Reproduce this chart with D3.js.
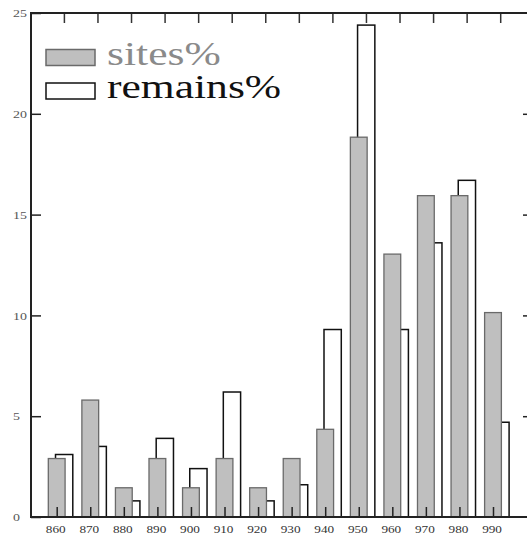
<!DOCTYPE html>
<html>
<head>
<meta charset="utf-8">
<script src="https://cdn.jsdelivr.net/npm/d3@7"></script>
<style>
  html, body { margin: 0; padding: 0; background: #fff; }
  svg { display: block; font-family: "Liberation Serif", "DejaVu Serif", serif; }
</style>
</head>
<body>
<svg id="chart" width="527" height="537"></svg>
<script>
'use strict'

// decades (x categories)
const decades = [860, 870, 880, 890, 900, 910, 920, 930, 940, 950, 960, 970, 980, 990]
// percentage of sites per decade
const sitesPct = [2.9, 5.8, 1.45, 2.9, 1.45, 2.9, 1.45, 2.9, 4.35, 18.84, 13.04, 15.94, 15.94, 10.14]
// percentage of remains per decade
const remainsPct = [3.1, 3.5, 0.8, 3.9, 2.4, 6.2, 0.8, 1.6, 9.3, 24.4, 9.3, 13.6, 16.7, 4.7]
// y tick values
const yTicks = [0, 5, 10, 15, 20, 25]

const frame = {left: 31, right: 533, top: 13, bottom: 517}
const tickLen = 10

// x scale: bottom ticks / sites bars
const x = d3.scaleLinear().domain([860, 990]).range([56.7, 493])
// top axis is shifted a bit, remains bars sit on it
const xTop = d3.scaleLinear().domain([860, 990]).range([63.9, 500.2])
// y scale
const y = d3.scaleLinear().domain([0, 25]).range([frame.bottom, frame.top])

const barW = x(865) - x(860)

const svg = d3.select('#chart')

// remains bars (white, drawn first so that sites bars cover them)
svg.append('g').selectAll('rect')
  .data(decades)
  .enter().append('rect')
  .attr('x', (d) => xTop(d) - barW / 2)
  .attr('y', (d, i) => y(remainsPct[i]))
  .attr('width', barW + 0.5)
  .attr('height', (d, i) => y(0) - y(remainsPct[i]))
  .attr('fill', '#fff')
  .attr('stroke', '#111')
  .attr('stroke-width', 1.5)

// sites bars (grey)
svg.append('g').selectAll('rect')
  .data(decades)
  .enter().append('rect')
  .attr('x', (d) => x(d) - barW / 2)
  .attr('y', (d, i) => y(sitesPct[i]))
  .attr('width', barW)
  .attr('height', (d, i) => y(0) - y(sitesPct[i]))
  .attr('fill', '#bfbfbf')
  .attr('stroke', '#6a6a6a')
  .attr('stroke-width', 1.3)

// bottom axis (ticks point up into the plot)
const xAxis = svg.append('g')
  .attr('transform', 'translate(0,' + frame.bottom + ')')
  .call(d3.axisBottom(x).tickValues(decades).tickSize(-tickLen).tickSizeOuter(0).tickFormat(d3.format('d')))
xAxis.select('.domain').remove()
xAxis.selectAll('line').attr('stroke', '#222').attr('stroke-width', 1.5)
xAxis.selectAll('text')
  .attr('font-size', 11)
  .attr('fill', '#333')
  .attr('y', 16)
  .attr('x', -1.5 / 1.2)
  .attr('dy', 0)
  .attr('transform', 'scale(1.2,1)')
  .attr('font-family', '"Liberation Serif", serif')

// top axis (ticks point down)
const topAxis = svg.append('g')
  .attr('transform', 'translate(0,' + frame.top + ')')
  .call(d3.axisTop(xTop).tickValues(decades).tickSize(-tickLen).tickSizeOuter(0).tickFormat(''))
topAxis.select('.domain').remove()
topAxis.selectAll('line').attr('stroke', '#333').attr('stroke-width', 1.5)

// left axis (ticks point right)
const yAxis = svg.append('g')
  .attr('transform', 'translate(' + frame.left + ',0)')
  .call(d3.axisLeft(y).tickValues(yTicks).tickSize(-tickLen).tickSizeOuter(0))
yAxis.select('.domain').remove()
yAxis.selectAll('line').attr('stroke', '#222').attr('stroke-width', 1.5)
yAxis.selectAll('text')
  .attr('text-anchor', 'start')
  .attr('font-size', 10.5)
  .attr('fill', '#555')
  .attr('x', -18 / 1.33)
  .attr('dy', '0.35em')
  .attr('transform', 'scale(1.33,1)')
  .attr('font-family', '"Liberation Serif", serif')

// right axis (ticks point left)
const rightAxis = svg.append('g')
  .attr('transform', 'translate(' + frame.right + ',0)')
  .call(d3.axisRight(y).tickValues(yTicks.slice(1, -1)).tickSize(-tickLen).tickSizeOuter(0).tickFormat(''))
rightAxis.select('.domain').remove()
rightAxis.selectAll('line').attr('stroke', '#222').attr('stroke-width', 1.5)

// frame lines
svg.append('path')
  .attr('d', 'M' + frame.right + ',' + frame.top + 'H' + frame.left + 'V' + frame.bottom + 'H' + frame.right + 'Z')
  .attr('fill', 'none')
  .attr('stroke', '#222')
  .attr('stroke-width', 2)

// legend
const legendItems = [
  {label: 'sites%', fill: '#bfbfbf', stroke: '#6a6a6a', color: '#8a8a8a'},
  {label: 'remains%', fill: '#fff', stroke: '#111', color: '#111'}
]
const legend = svg.append('g')
legendItems.forEach((item, i) => {
  const top = 49.5 + i * 33.5
  legend.append('rect')
    .attr('x', 46)
    .attr('y', top)
    .attr('width', 49)
    .attr('height', 16)
    .attr('fill', item.fill)
    .attr('stroke', item.stroke)
    .attr('stroke-width', 1.5)
  legend.append('text')
    .attr('transform', 'translate(107,' + (top + 15) + ') scale(1.32,1)')
    .attr('font-size', 33)
    .attr('fill', item.color)
    .text(item.label)
})
</script>
</body>
</html>
